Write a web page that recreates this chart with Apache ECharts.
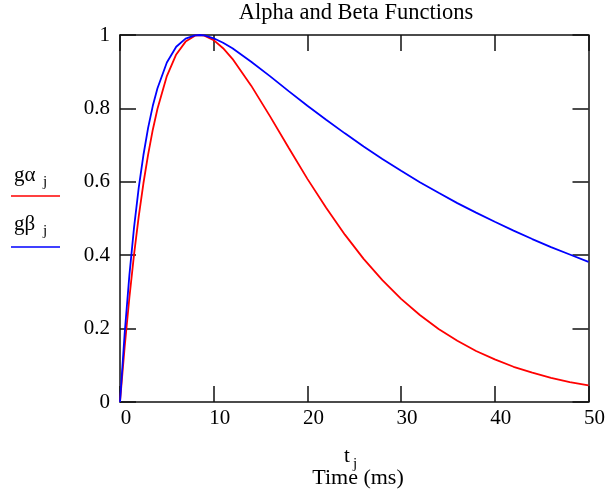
<!DOCTYPE html>
<html><head><meta charset="utf-8">
<script src="https://cdn.jsdelivr.net/npm/echarts@6/dist/echarts.min.js"></script>
<style>html,body{margin:0;padding:0;background:#fff}#c{width:608px;height:499px}</style>
</head><body><div id="c"></div>
<script>
const times = [0,0.5,1,1.5,2,2.5,3,3.5,4,5,6,7,8,8.5,9,10,11,12,14,16,18,20,22,24,26,28,30,32,34,36,38,40,42,44,46,48,50];
const gAlpha = [0,0.151,0.284,0.402,0.506,0.596,0.674,0.742,0.799,0.888,0.947,0.982,0.998,1.000,0.998,0.986,0.964,0.935,0.862,0.779,0.693,0.608,0.529,0.456,0.390,0.332,0.281,0.237,0.199,0.167,0.139,0.116,0.096,0.080,0.066,0.054,0.045];
const gBeta = [0,0.188,0.345,0.476,0.584,0.673,0.747,0.807,0.855,0.925,0.968,0.990,0.999,1.000,0.999,0.991,0.979,0.964,0.927,0.888,0.847,0.807,0.769,0.732,0.696,0.662,0.630,0.599,0.570,0.542,0.516,0.491,0.467,0.444,0.422,0.402,0.382];
const xTicks = {min:0, max:50, step:10};
const yTicks = {min:0, max:1, step:0.2};
const chartTitle = 'Alpha and Beta Functions';
const xName = 'Time (ms)';

const FONT = '"Liberation Serif", "Times New Roman", serif';
const frame = {show:true, onZero:false, lineStyle:{color:'#111', width:1.5}};
const tick = {show:true, inside:true, length:16, lineStyle:{color:'#111', width:1.5}};
const chart = echarts.init(document.getElementById('c'), null, {renderer:'canvas'});
const toPairs = ys => times.map((t,i)=>[t, ys[i]]);
chart.setOption({
  animation:false,
  backgroundColor:'#fff',
  grid:{left:120, top:35, width:473, height:367, show:false},
  xAxis:[
    {type:'value', position:'bottom', min:xTicks.min, max:xTicks.max, interval:xTicks.step,
     axisLine:frame, axisTick:tick, splitLine:{show:false},
     axisLabel:{show:true, color:'#000', fontFamily:FONT, fontSize:21, margin:6, padding:[0,0,0,12], showMinLabel:true, showMaxLabel:true}},
    {type:'value', position:'top', min:xTicks.min, max:xTicks.max, interval:xTicks.step,
     axisLine:frame, axisTick:tick, splitLine:{show:false}, axisLabel:{show:false}}
  ],
  yAxis:[
    {type:'value', position:'left', min:yTicks.min, max:yTicks.max, interval:yTicks.step,
     axisLine:frame, axisTick:tick, splitLine:{show:false},
     axisLabel:{show:true, color:'#000', fontFamily:FONT, fontSize:21, margin:10, showMinLabel:true, showMaxLabel:true}},
    {type:'value', position:'right', min:yTicks.min, max:yTicks.max, interval:yTicks.step,
     axisLine:frame, axisTick:tick, splitLine:{show:false}, axisLabel:{show:false}}
  ],
  series:[
    {type:'line', name:'gα', data:toPairs(gAlpha), showSymbol:false, lineStyle:{color:'#ff0000', width:1.8}, itemStyle:{color:'#ff0000'}, z:3},
    {type:'line', name:'gβ', data:toPairs(gBeta), showSymbol:false, lineStyle:{color:'#0000ff', width:1.8}, itemStyle:{color:'#0000ff'}, z:4}
  ],
  graphic:[
    {type:'text', x:356, y:2, style:{text:chartTitle, font:'22.5px '+FONT, fill:'#000', textAlign:'center', textVerticalAlign:'top'}},
    {type:'text', x:347, y:456, style:{text:'t', font:'21px '+FONT, fill:'#000', textAlign:'center', textVerticalAlign:'middle'}},
    {type:'text', x:355, y:464, style:{text:'j', font:'15px '+FONT, fill:'#000', textAlign:'center', textVerticalAlign:'middle'}},
    {type:'text', x:358, y:478, style:{text:xName, font:'22px '+FONT, fill:'#000', textAlign:'center', textVerticalAlign:'middle'}},
    {type:'text', x:14, y:175, style:{text:'gα', font:'21px '+FONT, fill:'#000', textAlign:'left', textVerticalAlign:'middle'}},
    {type:'text', x:43, y:182, style:{text:'j', font:'15px '+FONT, fill:'#000', textAlign:'left', textVerticalAlign:'middle'}},
    {type:'line', shape:{x1:11, y1:196, x2:60, y2:196}, style:{stroke:'#ff0000', lineWidth:1.5}},
    {type:'text', x:14, y:224, style:{text:'gβ', font:'21px '+FONT, fill:'#000', textAlign:'left', textVerticalAlign:'middle'}},
    {type:'text', x:43, y:231, style:{text:'j', font:'15px '+FONT, fill:'#000', textAlign:'left', textVerticalAlign:'middle'}},
    {type:'line', shape:{x1:11, y1:247, x2:60, y2:247}, style:{stroke:'#0000ff', lineWidth:1.5}}
  ]
});
</script></body></html>
